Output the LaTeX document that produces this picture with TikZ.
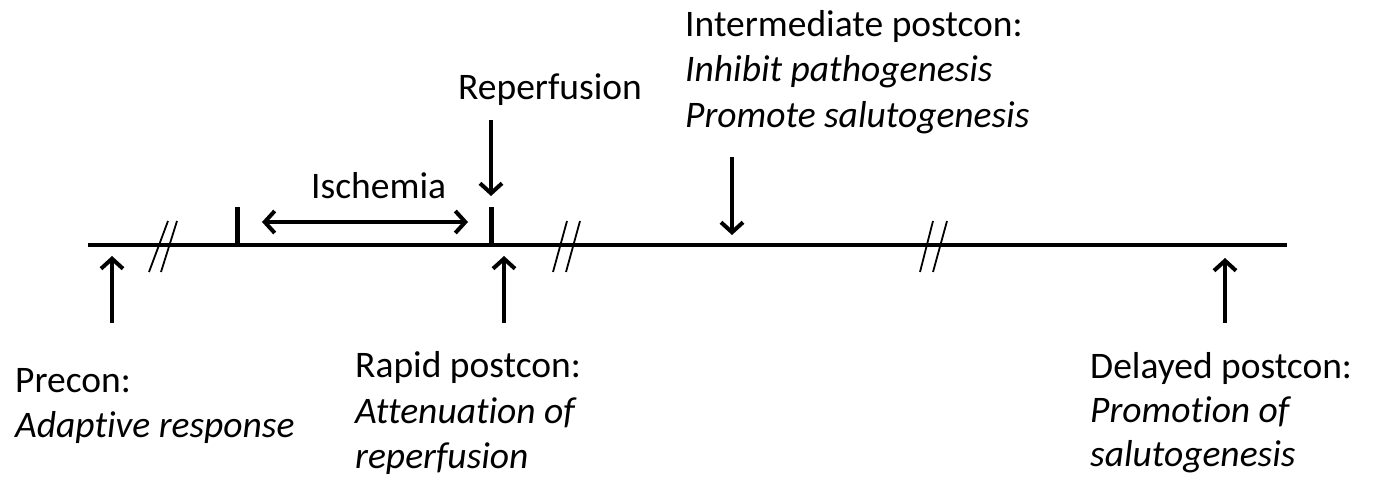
\documentclass[tikz,border=0pt]{standalone}
\usepackage{fontspec}
\setmainfont{Carlito}[Ligatures=NoCommon]
\usetikzlibrary{arrows.meta}
\tikzset{
  lbl/.style={anchor=base west, inner sep=0pt, font=\fontsize{37.5}{45}\selectfont},
  ilbl/.style={lbl, font=\fontsize{37.5}{45}\selectfont\itshape},
  axis/.style={line width=4pt},
  tick/.style={line width=5pt},
  brk/.style={line width=1.8pt},
  arr/.style={line width=4pt, -{Straight Barb[length=10pt,width=22pt]}},
  darr/.style={line width=4pt, {Straight Barb[length=10pt,width=22pt]}-{Straight Barb[length=10pt,width=22pt]}}
}
\begin{document}
\begin{tikzpicture}[x=1pt,y=-1pt]
\useasboundingbox (0,0) rectangle (1375,481);
% timeline
\coordinate (L) at (88,245);
\coordinate (R) at (1287,245);
\draw[axis] (L) -- (R);
% ticks
\coordinate (t1b) at (237,246); \coordinate (t1t) at (237,207);
\coordinate (t2b) at (491,246); \coordinate (t2t) at (491,207);
\draw[tick] (t1b) -- (t1t);
\draw[tick] (t2b) -- (t2t);
% breaks
\draw[brk] (149,272) -- (168,221);
\draw[brk] (161,272) -- (177,221);
\draw[brk] (553,272) -- (567,221);
\draw[brk] (566,272) -- (580,221);
\draw[brk] (920,272) -- (933,221);
\draw[brk] (933,272) -- (947,221);
% ischemia
\coordinate (i1) at (262,222); \coordinate (i2) at (468,222);
\draw[darr] (i1) -- (i2);
\node[lbl] (isch) at (311,198) {Ischemia};
% reperfusion
\node[lbl] (rep) at (458,100) {Reperfusion};
\coordinate (r1) at (491,120); \coordinate (r2) at (491,196);
\draw[arr] (r1) -- (r2);
% intermediate
\node[lbl] (int1) at (685,37) {Intermediate postcon:};
\node[ilbl] (int2) at (685,82) {Inhibit pathogenesis};
\node[ilbl] (int3) at (685,128) {Promote salutogenesis};
\coordinate (m1) at (732,157); \coordinate (m2) at (732,235);
\draw[arr] (m1) -- (m2);
% precon
\coordinate (p1) at (112,323); \coordinate (p2) at (112,256);
\draw[arr] (p1) -- (p2);
\node[lbl] (pre1) at (15,392) {Precon:};
\node[ilbl] (pre2) at (15,437) {Adaptive response};
% rapid
\coordinate (q1) at (504,323); \coordinate (q2) at (504,256);
\draw[arr] (q1) -- (q2);
\node[lbl] (rap1) at (355,377) {Rapid postcon:};
\node[ilbl] (rap2) at (355,423) {Attenuation of};
\node[ilbl] (rap3) at (355,468) {reperfusion};
% delayed
\coordinate (d1) at (1225,323); \coordinate (d2) at (1225,258);
\draw[arr] (d1) -- (d2);
\node[lbl] (del1) at (1090,378) {Delayed postcon:};
\node[ilbl] (del2) at (1090,422) {Promotion of};
\node[ilbl] (del3) at (1090,466) {salutogenesis};
\end{tikzpicture}
\end{document}
